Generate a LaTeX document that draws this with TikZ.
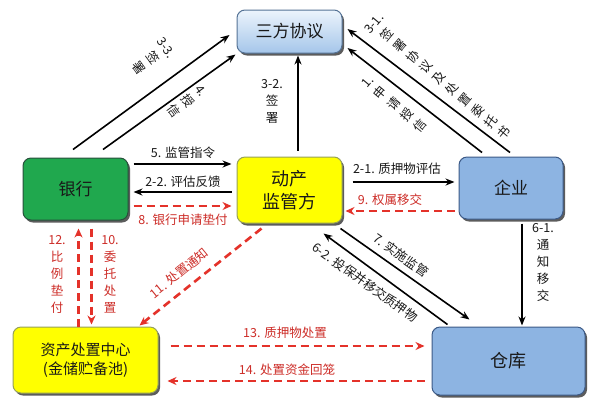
\documentclass[tikz,border=0pt]{standalone}
\usepackage{fontspec}
\setmainfont{Noto Sans CJK SC}
\usetikzlibrary{arrows.meta,shadows,calc}
\definecolor{rd}{RGB}{228,50,42}
\definecolor{rdt}{RGB}{205,45,40}
\definecolor{gr}{RGB}{32,168,78}
\definecolor{grb}{RGB}{40,80,60}
\definecolor{yl}{RGB}{255,255,0}
\definecolor{ylb}{RGB}{150,160,90}
\definecolor{bl}{RGB}{141,180,226}
\definecolor{blb}{RGB}{60,90,135}
\definecolor{tpa}{RGB}{236,244,252}
\definecolor{tpb}{RGB}{165,198,234}
\definecolor{tpd}{RGB}{85,115,150}
\begin{document}
\begin{tikzpicture}[x=1pt,y=-1pt,
  box/.style={draw, line width=1pt, rounded corners=8pt, align=center, inner sep=0pt,
    text=black!90, drop shadow={shadow xshift=2pt,shadow yshift=-2.5pt,fill=black!75,opacity=0.85}},
  blk/.style={line width=1.6pt, -{Stealth[length=9pt,width=7pt]}},
  rdd/.style={draw=rd, line width=2.6pt, dash pattern=on 8pt off 5pt, -{Stealth[length=9pt,width=8pt]}},
  lab/.style={font=\fontsize{12.5}{17}\selectfont, inner sep=0pt, align=center, text=black!90},
  rlab/.style={lab, text=rdt},
]
\useasboundingbox (0,0) rectangle (601,408);
\fill[white] (0,0) rectangle (601,408);

% boxes
\node[box, draw=tpd, top color=tpa, bottom color=tpb, minimum width=105pt, minimum height=43pt,
  font=\fontsize{17}{20}\selectfont] (top) at (289.5,31.5) {三方协议};
\node[box, draw=grb, fill=gr, minimum width=105pt, minimum height=62pt,
  font=\fontsize{17}{20}\selectfont] (bank) at (75.5,189) {银行};
\node[box, draw=ylb, fill=yl, minimum width=105pt, minimum height=66pt,
  font=\fontsize{18}{23}\selectfont] (sup) at (289.5,190) {动产\\监管方};
\node[box, draw=blb, fill=bl, minimum width=104pt, minimum height=62pt,
  font=\fontsize{17}{20}\selectfont] (ent) at (511,188) {企业};
\node[box, draw=ylb, fill=yl, minimum width=145pt, minimum height=66pt,
  font=\fontsize{15}{19}\selectfont] (asset) at (85.5,360) {资产处置中心\\(金储贮备池)};
\node[box, draw=blb, fill=bl, minimum width=153pt, minimum height=68pt,
  font=\fontsize{18}{20}\selectfont] (wh) at (508.5,361) {仓库};

% black arrows
\draw[blk] ($(bank.north)+(-2.5,-8)$) -- ($(top.west)+(-7,3.5)$);
\draw[blk] ($(bank.north)+(27.5,-8)$) -- ($(top.south west)+(-1,1)$);
\draw[blk] ($(sup.north)+(8.5,-6)$) -- ($(top.south)+(8.5,2)$);
\draw[blk] ($(ent.north)+(-29,-4)$) -- ($(top.east)+(5,16.5)$);
\draw[blk] ($(ent.north)+(-1,-4)$) -- ($(top.east)+(5,-2.5)$);
\draw[blk] ($(bank.east)+(5,-25)$) -- ($(sup.west)+(-5,-26)$);
\draw[blk] ($(sup.west)+(-5,2)$) -- ($(bank.east)+(5,3)$);
\draw[blk] ($(sup.east)+(10,-8)$) -- ($(ent.west)+(-4,-6)$);
\draw[blk] ($(ent.south)+(11,4)$) -- ($(wh.north)+(13.5,-1)$);
\draw[blk] ($(sup.south east)+(-2,5)$) -- ($(wh.north west)+(38,-7)$);
\draw[blk] ($(wh.north west)+(16,-2)$) -- ($(sup.south east)+(-19,10)$);

% red dashed arrows
\draw[rdd] ($(bank.east)+(5,17)$) -- ($(sup.west)+(-5,16)$);
\draw[rdd] ($(ent.west)+(-4,23)$) -- ($(sup.east)+(3,21)$);
\draw[rdd] ($(sup.south west)+(25,5)$) -- ($(asset.north west)+(127,-1)$);
\draw[rdd] ($(asset.north west)+(66,0)$) -- ($(bank.south west)+(56,8)$);
\draw[rdd] ($(bank.south west)+(69,8)$) -- ($(asset.north west)+(79,-2)$);
\draw[rdd] ($(asset.east)+(12,-14)$) -- ($(wh.west)+(-7,-15)$);
\draw[rdd] ($(wh.west)+(-7,20)$) -- ($(asset.east)+(9,21)$);

% labels
\node[lab, rotate=-54] (l33) at (152,58) {3-3.\\签\\署};
\node[lab, rotate=-54] (l4) at (187,101) {4.\\授\\信};
\node[lab] (l32) at (272,101.5) {3-2.\\签\\署};
\node[lab, rotate=50] (l31) at (439.5,78.5) {3-1.\\签\\署\\协\\议\\及\\处\\置\\委\\托\\书};
\node[lab, rotate=50] (l1) at (394,104) {1.\\申\\请\\授\\信};
\node[lab] (l5) at (183,153) {5. 监管指令};
\node[lab] (l22) at (183,182) {2-2. 评估反馈};
\node[rlab] (l8) at (183,220) {8. 银行申请垫付};
\node[lab] (l21) at (397,169) {2-1. 质押物评估};
\node[rlab] (l9) at (390,200) {9. 权属移交};
\node[lab] (l61) at (543,262.5) {6-1.\\通\\知\\移\\交};
\node[lab, rotate=-35.5] (l7) at (401,255) {7. 实施监管};
\node[lab, rotate=-35.5] (l62) at (365,282) {6-2. 投保并移交质押物};
\node[rlab, rotate=39] (l11) at (179,273) {11. 处置通知};
\node[rlab] (l12) at (57,274) {12.\\比\\例\\垫\\付};
\node[rlab] (l10) at (110,274) {10.\\委\\托\\处\\置};
\node[rlab] (l13) at (285,333) {13. 质押物处置};
\node[rlab] (l14) at (287,370) {14. 处置资金回笼};
\end{tikzpicture}
\end{document}
